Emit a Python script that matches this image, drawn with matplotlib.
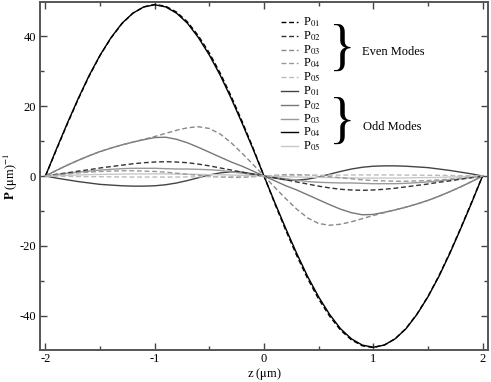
import numpy as np
import matplotlib
matplotlib.use("Agg")
import matplotlib.pyplot as plt
from matplotlib.ticker import MultipleLocator

plt.rcParams["font.family"] = ["Liberation Serif", "DejaVu Serif"]
plt.rcParams["mathtext.fontset"] = "stix"
plt.rcParams["axes.unicode_minus"] = False

# z grid (um), step 0.1
z = np.round(np.arange(-2.0, 2.0001, 0.1), 2)

# even modes (dashed)
even_p01 = [0, 7.5, 14.9, 22.0, 28.6, 34.5, 39.5, 43.6, 46.6, 48.4, 49.1,
            48.6, 46.9, 44.1, 40.1, 35.2, 29.4, 22.8, 15.6, 8.0, 0,
            -8.0, -15.6, -22.8, -29.4, -35.2, -40.1, -44.1, -46.9, -48.6, -49.1,
            -48.4, -46.6, -43.6, -39.5, -34.5, -28.6, -22.0, -14.9, -7.5, 0]
even_p02 = [0, 0.5, 0.9, 1.4, 1.8, 2.3, 2.7, 3.1, 3.5, 3.8, 4.0,
            4.1, 4.0, 3.8, 3.4, 2.9, 2.3, 1.7, 1.1, 0.5, 0,
            -0.5, -1.1, -1.7, -2.3, -2.9, -3.4, -3.8, -4.0, -4.1, -4.0,
            -3.8, -3.5, -3.1, -2.7, -2.3, -1.8, -1.4, -0.9, -0.5, 0]
even_p03 = [0, 1.6, 3.1, 4.5, 5.8, 7.0, 8.0, 8.9, 9.7, 10.5, 11.3,
            12.2, 13.1, 13.8, 14.1, 13.6, 12.0, 9.5, 6.5, 3.3, 0,
            -3.3, -6.5, -9.5, -12.0, -13.6, -14.1, -13.8, -13.1, -12.2, -11.3,
            -10.5, -9.7, -8.9, -8.0, -7.0, -5.8, -4.5, -3.1, -1.6, 0]
even_p04 = [0, 0.3, 0.6, 0.9, 1.1, 1.3, 1.4, 1.5, 1.5, 1.4, 1.3,
            1.1, 0.8, 0.5, 0.2, -0.1, -0.3, -0.4, -0.4, -0.2, 0,
            0.2, 0.4, 0.4, 0.3, 0.1, -0.2, -0.5, -0.8, -1.1, -1.3,
            -1.4, -1.5, -1.5, -1.4, -1.3, -1.1, -0.9, -0.6, -0.3, 0]
even_p05 = [0, -0.05, -0.1, -0.15, -0.2, -0.2, -0.25, -0.25, -0.3, -0.3, -0.3,
            -0.3, -0.3, -0.25, -0.25, -0.2, -0.2, -0.15, -0.1, -0.05, 0,
            0.05, 0.1, 0.15, 0.2, 0.2, 0.25, 0.25, 0.3, 0.3, 0.3,
            0.3, 0.3, 0.25, 0.25, 0.2, 0.2, 0.15, 0.1, 0.05, 0]

# odd modes (solid)
odd_p01 = [0, -0.6, -1.1, -1.6, -2.0, -2.4, -2.6, -2.8, -2.9, -2.9, -2.8,
           -2.5, -2.0, -1.3, -0.5, 0.3, 0.9, 1.2, 1.1, 0.6, 0,
           -0.6, -1.1, -1.2, -0.9, -0.3, 0.5, 1.3, 2.0, 2.5, 2.8,
           2.9, 2.9, 2.8, 2.6, 2.4, 2.0, 1.6, 1.1, 0.6, 0]
odd_p02 = [0, 1.6, 3.1, 4.5, 5.8, 7.0, 8.0, 8.9, 9.7, 10.4, 11.0,
           11.1, 10.5, 9.5, 8.2, 6.8, 5.4, 4.0, 2.8, 1.4, 0,
           -1.4, -2.8, -4.0, -5.4, -6.8, -8.2, -9.5, -10.5, -11.1, -11.0,
           -10.4, -9.7, -8.9, -8.0, -7.0, -5.8, -4.5, -3.1, -1.6, 0]
odd_p03 = [0, 0.4, 0.8, 1.1, 1.4, 1.7, 1.9, 2.1, 2.2, 2.2, 2.2,
           2.1, 2.0, 2.0, 1.9, 1.8, 1.6, 1.2, 0.8, 0.4, 0,
           -0.4, -0.8, -1.2, -1.6, -1.8, -1.9, -2.0, -2.0, -2.1, -2.2,
           -2.2, -2.2, -2.1, -1.9, -1.7, -1.4, -1.1, -0.8, -0.4, 0]
odd_p04 = [0, 7.7, 15.1, 22.2, 28.8, 34.6, 39.6, 43.7, 46.6, 48.4, 49.0,
           48.4, 46.6, 43.7, 39.6, 34.6, 28.8, 22.2, 15.1, 7.7, 0,
           -7.7, -15.1, -22.2, -28.8, -34.6, -39.6, -43.7, -46.6, -48.4, -49.0,
           -48.4, -46.6, -43.7, -39.6, -34.6, -28.8, -22.2, -15.1, -7.7, 0]
odd_p05 = [0, 0.1, 0.2, 0.3, 0.4, 0.45, 0.5, 0.55, 0.6, 0.6, 0.6,
           0.6, 0.55, 0.5, 0.45, 0.4, 0.35, 0.3, 0.2, 0.1, 0,
           -0.1, -0.2, -0.3, -0.35, -0.4, -0.45, -0.5, -0.55, -0.6, -0.6,
           -0.6, -0.6, -0.55, -0.5, -0.45, -0.4, -0.3, -0.2, -0.1, 0]

even_series = [even_p01, even_p02, even_p03, even_p04, even_p05]
odd_series = [odd_p01, odd_p02, odd_p03, odd_p04, odd_p05]
mode_labels = ["01", "02", "03", "04", "05"]
even_colors = ["#000000", "#333333", "#888888", "#999999", "#bbbbbb"]
odd_colors = ["#444444", "#777777", "#999999", "#000000", "#c8c8c8"]

W, H = 491, 382
fig = plt.figure(figsize=(W/100, H/100), dpi=100)
ax = fig.add_axes([40/W, 1-350/H, 448/W, 348/H])

DASH = (0, (3.5, 2))
for ys, c in zip(odd_series, odd_colors):
    ax.plot(z, ys, color=c, lw=1.0, zorder=2)
for ys, c in zip(even_series, even_colors):
    ax.plot(z, ys, color=c, lw=1.0, ls=DASH, zorder=3)

ax.set_xlim(-2.05, 2.05)
ax.set_ylim(-49.8, 49.8)
ax.xaxis.set_major_locator(MultipleLocator(1))
ax.xaxis.set_minor_locator(MultipleLocator(0.5))
ax.yaxis.set_major_locator(MultipleLocator(20))
ax.yaxis.set_minor_locator(MultipleLocator(10))
ax.tick_params(which="both", direction="in", top=True, right=True,
               color="#444444", labelsize=9)
ax.tick_params(axis="x", pad=2)
ax.tick_params(axis="y", pad=3)
ax.tick_params(which="major", length=5, width=1)
ax.tick_params(which="minor", length=3, width=1)
for s in ax.spines.values():
    s.set_color("#555555")
    s.set_linewidth(1.4)

# axis titles placed by hand so they stay inside the canvas
fig.text(264/W, 1-374/H, r"z ($\mathrm{\mu}$m)", fontsize=9,
         ha="center", va="center")
fig.text(11/W, 1-176/H, r"$\mathsf{\mathbf{P}}$ ($\mathrm{\mu}$m)$^{-1}$",
         fontsize=9, rotation=90, ha="center", va="center")

# hand-placed legend
def ax_x(px):
    return (px - 40) / 448

def ax_y(py):
    return (350 - py) / 348

rows = [(c, DASH, l) for c, l in zip(even_colors, mode_labels)] + \
       [(c, "-", l) for c, l in zip(odd_colors, mode_labels)]
for i, (c, ls, l) in enumerate(rows):
    py = 22 + 13.8 * i
    ax.plot([ax_x(281), ax_x(298)], [ax_y(py), ax_y(py)], color=c, ls=ls,
            lw=1.0, transform=ax.transAxes, clip_on=False)
    ax.text(ax_x(303), ax_y(py), r"P$_{%s}$" % l, fontsize=9,
            ha="left", va="center", transform=ax.transAxes)

for py in (51, 124):
    ax.text(ax_x(342), ax_y(py), "}", fontsize=40, ha="center", va="center",
            transform=ax.transAxes)
ax.text(ax_x(362), ax_y(52), "Even Modes", fontsize=9, ha="left",
        va="center", transform=ax.transAxes)
ax.text(ax_x(363), ax_y(127), "Odd Modes", fontsize=9, ha="left",
        va="center", transform=ax.transAxes)

fig.savefig("out.png", dpi=100)
